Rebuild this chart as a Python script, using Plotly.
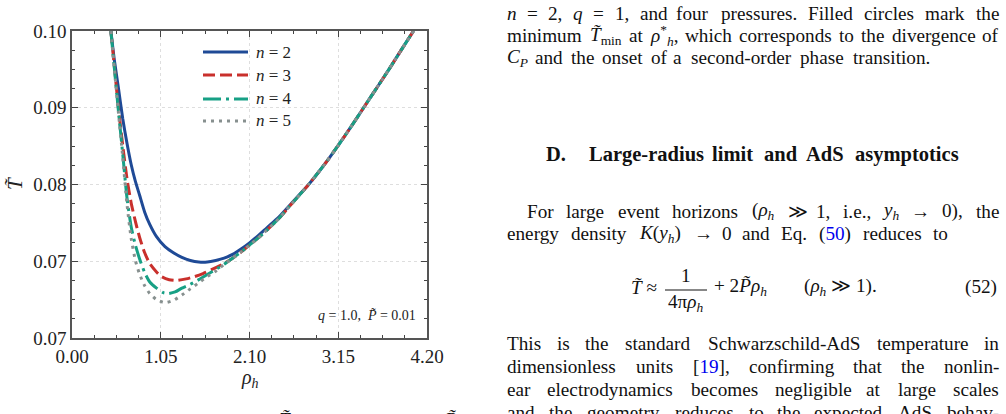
import re
import plotly.graph_objects as go

# ---------------- data ----------------
rho_n2 = [0.46, 0.50, 0.55, 0.60, 0.65, 0.70, 0.75, 0.80, 0.86, 0.92, 1.00, 1.10, 1.20, 1.30,
          1.40, 1.50, 1.60, 1.70, 1.80, 1.90, 2.00, 2.10, 2.20, 2.30, 2.45, 2.60, 2.80, 3.00,
          3.15, 3.30, 3.45, 3.60, 3.75, 3.90, 4.04]
T_n2 = [0.1000, 0.0963, 0.0925, 0.0886, 0.0854, 0.0826, 0.0804, 0.0786, 0.0764, 0.0748, 0.0732,
        0.0719, 0.0711, 0.0705, 0.0701, 0.0699, 0.0699, 0.0701, 0.0704, 0.0709, 0.0716, 0.0724,
        0.0733, 0.0743, 0.0758, 0.0776, 0.0800, 0.0828, 0.0851, 0.0875, 0.0900, 0.0925, 0.0950,
        0.0976, 0.1000]

rho_n3 = [0.46, 0.50, 0.55, 0.60, 0.65, 0.70, 0.75, 0.80, 0.86, 0.92, 1.00, 1.06, 1.15, 1.24,
          1.35, 1.45, 1.55, 1.65, 1.80, 1.90, 2.00, 2.10, 2.20, 2.30, 2.45, 2.60, 2.80, 3.00,
          3.15, 3.30, 3.45, 3.60, 3.75, 3.90, 4.04]
T_n3 = [0.1000, 0.0955, 0.0899, 0.0851, 0.0808, 0.0776, 0.0752, 0.0731, 0.0711, 0.0697, 0.0686,
        0.0680, 0.0676, 0.0675, 0.0677, 0.0680, 0.0684, 0.0689, 0.0697, 0.0704, 0.0712, 0.0721,
        0.0730, 0.0740, 0.0756, 0.0775, 0.0800, 0.0828, 0.0851, 0.0875, 0.0900, 0.0925, 0.0950,
        0.0976, 0.1000]

rho_n4 = [0.46, 0.50, 0.55, 0.60, 0.65, 0.70, 0.75, 0.80, 0.86, 0.92, 1.00, 1.08, 1.14, 1.22,
          1.30, 1.40, 1.50, 1.65, 1.80, 1.90, 2.00, 2.10, 2.20, 2.30, 2.45, 2.60, 2.80, 3.00,
          3.15, 3.30, 3.45, 3.60, 3.75, 3.90, 4.04]
T_n4 = [0.1000, 0.0953, 0.0895, 0.0840, 0.0783, 0.0745, 0.0721, 0.0703, 0.0685, 0.0673, 0.0665,
        0.0659, 0.0658, 0.0660, 0.0665, 0.0670, 0.0676, 0.0686, 0.0696, 0.0704, 0.0712, 0.0721,
        0.0730, 0.0740, 0.0756, 0.0775, 0.0800, 0.0828, 0.0851, 0.0875, 0.0900, 0.0925, 0.0950,
        0.0976, 0.1000]

rho_n5 = [0.46, 0.50, 0.55, 0.60, 0.65, 0.70, 0.75, 0.80, 0.86, 0.92, 1.00, 1.10, 1.20, 1.30,
          1.40, 1.50, 1.60, 1.70, 1.80, 1.90, 2.00, 2.10, 2.20, 2.30, 2.45, 2.60, 2.80, 3.00,
          3.15, 3.30, 3.45, 3.60, 3.75, 3.90, 4.04]
T_n5 = [0.1000, 0.0952, 0.0893, 0.0836, 0.0775, 0.0730, 0.0701, 0.0683, 0.0668, 0.0658, 0.0650,
        0.0646, 0.0649, 0.0656, 0.0664, 0.0672, 0.0680, 0.0687, 0.0696, 0.0704, 0.0712, 0.0721,
        0.0730, 0.0740, 0.0756, 0.0775, 0.0800, 0.0828, 0.0851, 0.0875, 0.0900, 0.0925, 0.0950,
        0.0976, 0.1000]

series_names = ["<i>n</i> = 2", "<i>n</i> = 3", "<i>n</i> = 4", "<i>n</i> = 5"]

x_tickvals = [0.0, 1.05, 2.10, 3.15, 4.20]
x_ticklabels = ["0.00", "1.05", "2.10", "3.15", "4.20"]
y_tickvals = [0.06, 0.07, 0.08, 0.09, 0.10]
y_ticklabels = ["0.07", "0.07", "0.08", "0.09", "0.10"]

param_label = "<i>q</i> = 1.0,  <i>P̃</i> = 0.01"

# ---------------- styles ----------------
W, H = 1006, 414
FONT = "Liberation Serif"
colors = ["#1f4a96", "#c9302c", "#17a085", "#87908f"]
dashes = ["solid", "12px,5px", "18px,5px,3px,5px", "3px,5px"]
LW = 3
BLUE = "#0000ee"


def px(x):
    return x / W


def py(y):
    return 1 - y / H


fig = go.Figure()
data = [(rho_n2, T_n2), (rho_n3, T_n3), (rho_n4, T_n4), (rho_n5, T_n5)]
for (xs, ys), c, d, nm in zip(data, colors, dashes, series_names):
    fig.add_trace(go.Scatter(x=xs, y=ys, mode="lines", name=nm, showlegend=False,
                             line=dict(color=c, width=LW, dash=d, shape="spline", smoothing=0.6)))

axis_common = dict(
    ticks="inside", ticklen=6, tickwidth=1, tickcolor="#444",
    showline=True, linecolor="#555", linewidth=1.5, mirror="allticks",
    showgrid=True, gridcolor="#dedede", griddash="dot", gridwidth=1,
    zeroline=False, automargin=False,
    tickfont=dict(family=FONT, size=19, color="#222"),
)

fig.update_layout(
    width=W, height=H,
    margin=dict(l=0, r=0, t=0, b=0),
    paper_bgcolor="white", plot_bgcolor="white",
    xaxis=dict(domain=[px(72), px(427)], range=[0, 4.2], tickmode="array",
               tickvals=x_tickvals, ticktext=x_ticklabels,
               minor=dict(tick0=0, dtick=0.2625, ticks="inside", ticklen=3,
                          tickcolor="#444", showgrid=False),
               **axis_common),
    yaxis=dict(domain=[py(338), py(31)], range=[0.06, 0.10], tickmode="array",
               tickvals=y_tickvals, ticktext=y_ticklabels,
               minor=dict(tick0=0.06, dtick=0.0025, ticks="inside", ticklen=3,
                          tickcolor="#444", showgrid=False),
               **axis_common),
)

ann = []
shapes = []


def note(x, y, text, size, xanchor="left", yanchor="middle", color="#111", angle=0):
    ann.append(dict(x=px(x), y=py(y), xref="paper", yref="paper", text=text, showarrow=False,
                    xanchor=xanchor, yanchor=yanchor, textangle=angle, borderpad=0,
                    font=dict(family=FONT, size=size, color=color)))


# axis titles
note(15, 184, "<i>T̃</i>", 21, xanchor="center", color="#222", angle=-90)
note(250, 378, "<i>ρ<sub>h</sub></i>", 20, xanchor="center", color="#222")

# custom legend
leg_rows = [52, 75, 99, 121]
for r, c, d, nm in zip(leg_rows, colors, dashes, series_names):
    shapes.append(dict(type="line", xref="paper", yref="paper", x0=px(203), x1=px(248),
                       y0=py(r), y1=py(r), line=dict(color=c, width=LW, dash=d)))
    note(255, r, nm, 17, color="#222")

# parameter label
note(417, 315, param_label, 14, xanchor="right", color="#222")

# ---------------- right-hand paper text (justified word by word) ----------------
# Times / Liberation Serif advance widths (1/1000 em)
WID = {' ': 250, '!': 333, '(': 333, ')': 333, '*': 500, ',': 250, '-': 333, '.': 250,
       '=': 564, '[': 333, ']': 333, 'ρ': 520, 'π': 550, '≫': 900, '→': 900, '≈': 550,
       '+': 564, '\u0303': 0, '§': 0}
for ch in "0123456789":
    WID[ch] = 500
WID.update(dict(zip("ABCDEFGHIJKLMNOPQRSTUVWXYZ",
                    [722, 667, 667, 722, 611, 556, 722, 722, 333, 389, 722, 611, 889, 722, 722,
                     556, 722, 667, 556, 611, 722, 722, 944, 722, 722, 611])))
WID.update(dict(zip("abcdefghijklmnopqrstuvwxyz",
                    [444, 500, 444, 500, 444, 333, 500, 500, 278, 278, 500, 278, 778, 500, 500,
                     500, 500, 333, 389, 278, 500, 500, 722, 500, 500, 444])))


def word_width(html, size, bold=False):
    scale = 1.0
    total = 0.0
    for tok in re.split(r"(<[^>]+>)", html):
        if tok.startswith("<"):
            t = tok.lower()
            if t in ("<sub>", "<sup>"):
                scale = 0.7
            elif t in ("</sub>", "</sup>"):
                scale = 1.0
            continue
        for ch in tok:
            total += WID.get(ch, 550) * scale
    return total / 1000 * size * (1.06 if bold else 1.02)


def colorize(w):
    return re.sub(r"§(\w+)§", r"<span style='color:%s'>\1</span>" % BLUE, w)


def place_line(text, x0, x1, y, size, bold=False):
    """Justify a line between x0 and x1: first half anchored from the left,
    second half anchored from the right."""
    words = text.split(" ")
    widths = [word_width(w, size, bold) for w in words]
    n = len(words)
    gap = (x1 - x0 - sum(widths)) / max(n - 1, 1)
    half = (n + 1) // 2
    x = x0
    for i in range(half):
        t = colorize(words[i])
        if bold:
            t = "<b>" + t + "</b>"
        note(x, y, t, size, xanchor="left")
        x += widths[i] + gap
    x = x1
    for i in range(n - 1, half - 1, -1):
        t = colorize(words[i])
        if bold:
            t = "<b>" + t + "</b>"
        note(x, y, t, size, xanchor="right")
        x -= widths[i] + gap


TXT = 19.2
text_lines = [
    ("<i>n</i> = 2, <i>q</i> = 1, and four pressures. Filled circles mark the", 506, 1000, 13),
    ("minimum <i>T̃</i><sub>min</sub> at <i>ρ</i><sup>*</sup><sub><i>h</i></sub>, which corresponds to the divergence of", 506, 1000, 36),
    ("<i>C<sub>P</sub></i> and the onset of a second-order phase transition.", 506, 931, 58),
    ("For large event horizons (<i>ρ<sub>h</sub></i> ≫ 1, i.e., <i>y<sub>h</sub></i> → 0), the", 526, 1000, 211),
    ("energy density <i>K</i>(<i>y<sub>h</sub></i>) → 0 and Eq. (§50§) reduces to", 506, 949, 234),
    ("This is the standard Schwarzschild-AdS temperature in", 506, 1000, 343),
    ("dimensionless units [§19§], confirming that the nonlin-", 506, 1000, 366),
    ("ear electrodynamics becomes negligible at large scales", 506, 1000, 389),
    ("and the geometry reduces to the expected AdS behav-", 506, 1000, 412),
]
for t, x0, x1, y in text_lines:
    place_line(t, x0, x1, y, TXT)

# section heading
note(545, 154, "<b>D.</b>", 20.5, xanchor="left")
place_line("Large-radius limit and AdS asymptotics", 588, 960, 154, 20.5, bold=True)

# equation (52)
note(658, 287, "<i>T̃</i> ≈", TXT, xanchor="right")
note(686, 275, "1", TXT, xanchor="center")
note(686, 303, "4π<i>ρ<sub>h</sub></i>", TXT, xanchor="center")
shapes.append(dict(type="line", xref="paper", yref="paper", x0=px(665), x1=px(707),
                   y0=py(290), y1=py(290), line=dict(color="#111", width=1)))
note(713, 287, "+ 2<i>P̃ρ<sub>h</sub></i>", TXT)
note(803, 287, "(<i>ρ<sub>h</sub></i> ≫ 1).", TXT)
note(998, 287, "(52)", TXT, xanchor="right")

# top of the next caption line (cut off by the page edge)
note(285, 419, "<i>T̃</i>", TXT, xanchor="center")
note(450, 419, "<i>P̃</i>", TXT, xanchor="center")

fig.update_layout(annotations=ann, shapes=shapes)
fig.write_html("out.html")
